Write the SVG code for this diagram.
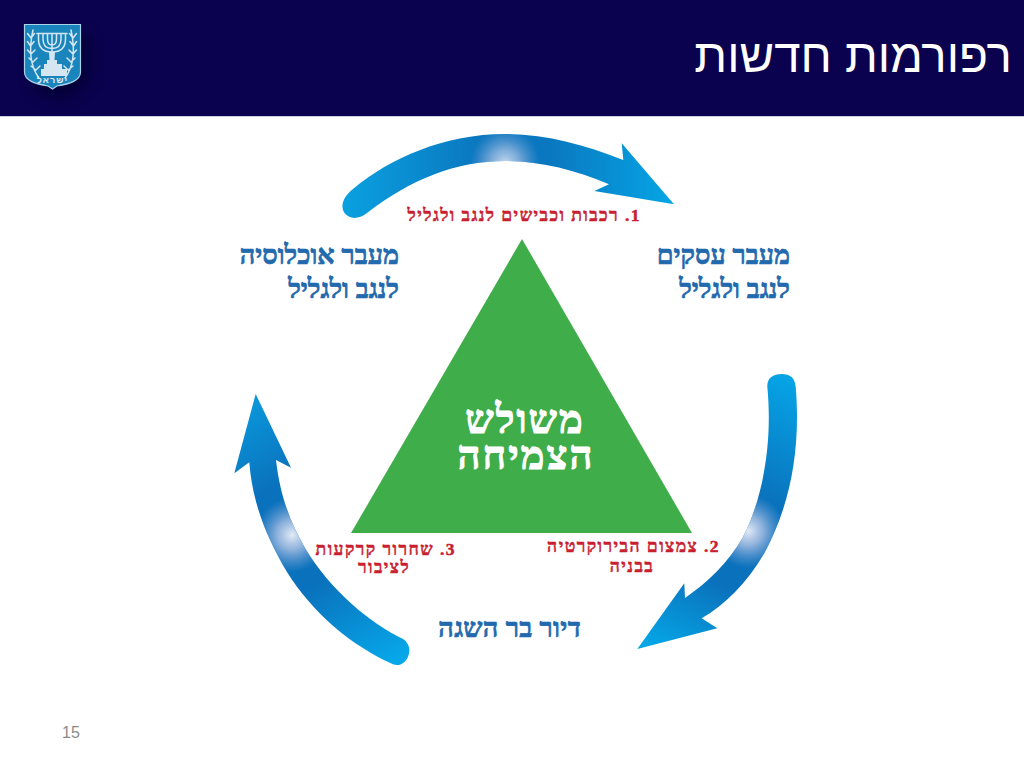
<svg xmlns="http://www.w3.org/2000/svg" width="1024" height="768" viewBox="0 0 1024 768">
<style>
text{font-family:"Liberation Serif","DejaVu Serif",serif;font-weight:700;direction:rtl}
.blue{fill:#2269ad;stroke:#2269ad;stroke-width:.7px;font-size:27px}
.red{fill:#c8202f;stroke:#c8202f;stroke-width:.5px;font-size:17.5px;letter-spacing:1.45px}
.big{fill:#fff;stroke:#fff;stroke-width:1px;font-size:40px;letter-spacing:2px;text-anchor:middle}
.c{text-anchor:middle}
.s{text-anchor:start}
.e{fill:none;stroke:#d5e6f1;stroke-width:1.5;stroke-linecap:round}
</style>
<defs>
<linearGradient id="g1" gradientUnits="userSpaceOnUse" x1="345" y1="205" x2="675" y2="205"><stop offset="0" stop-color="#0aa0e0"/><stop offset=".4" stop-color="#0a78c0"/><stop offset=".62" stop-color="#0a78c0"/><stop offset="1" stop-color="#05a6e6"/></linearGradient>
<linearGradient id="g2" gradientUnits="userSpaceOnUse" x1="781" y1="375" x2="650" y2="645"><stop offset="0" stop-color="#06a4e6"/><stop offset=".4" stop-color="#0a72bc"/><stop offset=".72" stop-color="#0a72bc"/><stop offset="1" stop-color="#05a6e6"/></linearGradient>
<linearGradient id="g3" gradientUnits="userSpaceOnUse" x1="400" y1="660" x2="256" y2="394"><stop offset="0" stop-color="#06a8ea"/><stop offset=".35" stop-color="#0a72bc"/><stop offset=".7" stop-color="#0a72bc"/><stop offset="1" stop-color="#0a98dc"/></linearGradient>
<radialGradient id="hl"><stop offset="0" stop-color="#eef1f9" stop-opacity=".95"/><stop offset=".4" stop-color="#b0c2e4" stop-opacity=".8"/><stop offset="1" stop-color="#7f9fd6" stop-opacity="0"/></radialGradient>
<filter id="sh" x="-50%" y="-50%" width="220%" height="220%"><feGaussianBlur stdDeviation="7"/></filter>
<path id="a1" d="M353 189C390 158 445 134 505 134C546 134 585 145 623.300 160L621.700 143.300L674 204.300L594.300 191L609 184.300C575 170 540 161 505 161C455 161 410 180 367 213C358 220 349 219 344.500 213C340 206 343 197 353 189Z"/>
<path id="a2" d="M795.700 386.700C801 450 790 505 765 552C748 582 725 605 701.700 618.300L717.300 628.300L637.300 649L684.300 583.300L685 598C708 582 728 563 743 537C762 500 773 445 767.300 386.700C767 378 773 374 781.700 374C790 374 795 378 795.700 386.700Z"/>
<path id="a3" d="M249.300 462.300C252 500 265 535 287 572C312 612 350 645 393 664.300C400 667 406 662 408 656.700C411 650 409 643 403 639C370 623 330 590 305 548C290 522 280 495 276 460L291 467.700L255.700 394L234.300 473.300Z"/>
<clipPath id="c1"><use href="#a1"/></clipPath>
<clipPath id="c2"><use href="#a2"/></clipPath>
<clipPath id="c3"><use href="#a3"/></clipPath>
</defs>
<rect width="1024" height="768" fill="#fff"/>
<g id="header">
<rect width="1024" height="116" fill="#0b024f"/>
<rect y="116" width="1024" height="1" fill="#c9cde4"/>
<text x="1012" y="72" class="s" style="font-family:'Liberation Sans',sans-serif;font-weight:400;font-size:47.500px" fill="#fff">רפורמות חדשות</text>
</g>
<g id="emblem">
<path d="M30 34H90V80L70 98H50L34 90Z" fill="#03012a" opacity=".65" filter="url(#sh)"/>
<path d="M24.500 24.500H80.500V72C80.500 81 69 84 57 86L52.500 89L48 86C36 84 24.500 81 24.500 72Z" fill="#1a85bd" stroke="#a9d3e8" stroke-width="1.200"/>
<path class="e" d="M52 34V60M38.500 34V39C38.500 49 45 52 52 52C59 52 65.500 49 65.500 39V34M43 34V39C43 46 47 48.500 52 48.500C57 48.500 61 46 61 39V34M47.500 34V39C47.500 43 49.500 45 52 45C54.500 45 56.500 43 56.500 39V34M37 33.500H67"/>
<path d="M49 52H55L54.500 60H57V64H62V69H67V76H41V69H44V64H47V60H49.500Z" fill="#d5e6f1"/>
<path class="e" d="M33 30C29 48 30 66 39 78M31 38L34.500 33.500M31 38L27.500 33.500M30.500 46L34 41.500M30.500 46L27.500 41.500M31 54L35 50M31 54L27.500 50M33 62L37 58M33 62L29 58M36 70L40 66M36 70L31 66"/>
<path class="e" d="M71 30C75 48 74 66 65 78M73 38L69.500 33.500M73 38L76.500 33.500M73.500 46L70 41.500M73.500 46L76.500 41.500M73 54L69 50M73 54L76.500 50M71 62L67 58M71 62L75 58M68 70L64 66M68 70L73 66"/>
<text x="52.500" y="83" class="c" style="font-size:9px;font-family:'Liberation Sans',sans-serif;letter-spacing:1px" fill="#e0edf5">ישראל</text>
</g>
<g id="connectors">
<g id="arrow-1"><use href="#a1" fill="url(#g1)"/><circle cx="505" cy="163" r="35" fill="url(#hl)" clip-path="url(#c1)" opacity=".85"/></g>
<g id="arrow-2"><use href="#a2" fill="url(#g2)"/><circle cx="748" cy="531" r="37" fill="url(#hl)" clip-path="url(#c2)"/></g>
<g id="arrow-3"><use href="#a3" fill="url(#g3)"/><circle cx="292" cy="535" r="37" fill="url(#hl)" clip-path="url(#c3)"/></g>
</g>
<g id="triangle">
<path d="M522 239L692 533H351Z" fill="#40ad4b"/>
<text x="525" y="433" class="big">משולש</text>
<text x="526" y="469" class="big">הצמיחה</text>
</g>
<g id="step-1"><text x="641" y="221" class="s red">1. רכבות וכבישים לנגב ולגליל</text></g>
<g id="step-2"><text x="720" y="552" class="s red">2. צמצום הבירוקרטיה</text><text x="632" y="572" class="c red">בבניה</text></g>
<g id="step-3"><text x="456" y="555" class="s red">3. שחרור קרקעות</text><text x="384" y="573" class="c red">לציבור</text></g>
<g id="business"><text x="790" y="264" class="s blue">מעבר עסקים</text><text x="790" y="298" class="s blue">לנגב ולגליל</text></g>
<g id="population"><text x="399" y="264" class="s blue">מעבר אוכלוסיה</text><text x="399" y="298" class="s blue">לנגב ולגליל</text></g>
<g id="housing"><text x="581" y="637" class="s blue" style="letter-spacing:.3px">דיור בר השגה</text></g>
<text id="page" x="71" y="738" class="c" style="font-family:'Liberation Sans',sans-serif;font-weight:400;font-size:16px;direction:ltr" fill="#8a8a8a">15</text>
</svg>
